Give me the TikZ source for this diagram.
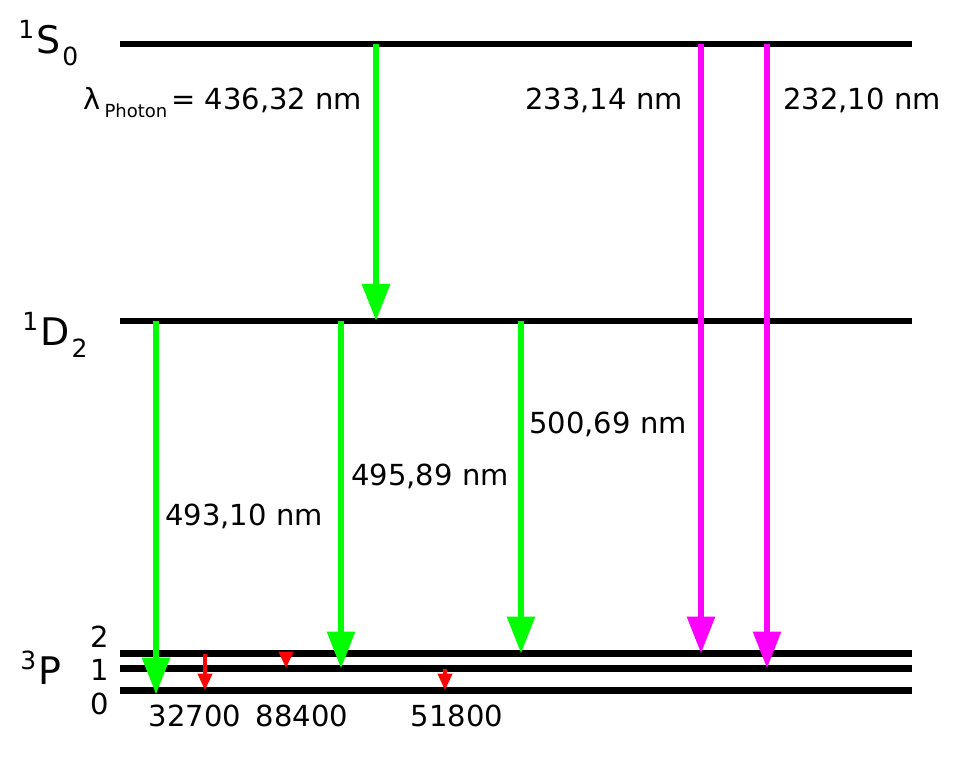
\documentclass[tikz,border=0pt]{standalone}
\usepackage{fontspec}
\setmainfont{DejaVu Sans}
\usepackage{tikz}
\usetikzlibrary{arrows.meta}

\definecolor{linegreen}{RGB}{0,255,0}
\definecolor{linepink}{RGB}{255,0,255}
\definecolor{linered}{RGB}{255,0,0}

\newcommand{\term}[3]{\raisebox{7.5pt}{\fontsize{12.5}{12.5}\selectfont #1}\kern1pt#2\kern1pt\raisebox{-6pt}{\fontsize{12.5}{12.5}\selectfont #3}}

\begin{document}
\begin{tikzpicture}[
                x=0.5pt, y=-0.5pt,
                level/.style={line width=3.4pt, black},
                greenarr/.style={line width=3pt, linegreen, -{Triangle[width=13.5pt, length=18.5pt]}},
                pinkarr/.style={line width=3pt, linepink, -{Triangle[width=13.5pt, length=18.5pt]}},
                redarr/.style={line width=2pt, linered, -{Triangle[width=7pt, length=8.5pt]}},
                lab/.style={inner sep=0pt, anchor=base west, font=\fontsize{14.5}{14.5}\selectfont},
                num/.style={inner sep=0pt, font=\fontsize{14.5}{14.5}\selectfont},
                term/.style={inner sep=0pt, anchor=base west, font=\fontsize{19}{19}\selectfont}
            ]
                \useasboundingbox (0,0) rectangle (958,769);

                % levels
                \coordinate (S0) at (120,44);  \coordinate (S0e) at (912,44);
                \coordinate (D2) at (120,321); \coordinate (D2e) at (912,321);
                \coordinate (P2) at (120,653.5); \coordinate (P2e) at (912,653.5);
                \coordinate (P1) at (120,668.5); \coordinate (P1e) at (912,668.5);
                \coordinate (P0) at (120,690.5); \coordinate (P0e) at (912,690.5);

                \draw[level] (S0) -- (S0e);
                \draw[level] (D2) -- (D2e);
                \draw[level] (P2) -- (P2e);
                \draw[level] (P1) -- (P1e);
                \draw[level] (P0) -- (P0e);

                % columns of the transitions
                \coordinate (c436) at (376,0);
                \coordinate (c493) at (156,0);
                \coordinate (c495) at (341,0);
                \coordinate (c500) at (521,0);
                \coordinate (c233) at (701,0);
                \coordinate (c232) at (767,0);
                \coordinate (r327) at (205,0);
                \coordinate (r884) at (286,0);
                \coordinate (r518) at (445,0);

                \draw[greenarr] (c436 |- S0) -- (c436 |- D2);
                \draw[greenarr, shorten >=-2pt] (c493 |- D2) -- (c493 |- P0);
                \draw[greenarr] (c495 |- D2) -- (c495 |- P1);
                \draw[greenarr] (c500 |- D2) -- (c500 |- P2);
                \draw[pinkarr] (c233 |- S0) -- (c233 |- P2);
                \draw[pinkarr] (c232 |- S0) -- (c232 |- P1);

                \draw[redarr] (r327 |- P2) -- (r327 |- P0);
                \draw[redarr] (r884 |- P2) -- (r884 |- P1);
                \draw[redarr] (r518 |- P1) -- (r518 |- P0);

                % term symbols
                \node[term] (tS0) at (18,54) {\term{1}{S}{0}};
                \node[term] (tD2) at (22,346) {\term{1}{D}{2}};
                \node[term] (tP) at (20,684) {\term{3}{P}{}};
                \node[num] (j2) at (100,637) {2};
                \node[num] (j1) at (100,670) {1};
                \node[num] (j0) at (100,704) {0};

                % wavelengths
                \node[lab] (l436) at (83,110) {λ\hspace{2pt}\raisebox{-4pt}{\fontsize{9}{9}\selectfont Photon}\hspace{2pt}= 436,32 nm};
                \node[lab] (l233) at (525,110) {233,14 nm};
                \node[lab] (l232) at (783,110) {232,10 nm};
                \node[lab] (l500) at (529,434) {500,69 nm};
                \node[lab] (l495) at (351,486) {495,89 nm};
                \node[lab] (l493) at (165,526) {493,10 nm};

                \node[num] (w327) at (195,716) {32700};
                \node[num] (w884) at (302,716) {88400};
                \node[num] (w518) at (457,716) {51800};
            \end{tikzpicture}
\end{document}
